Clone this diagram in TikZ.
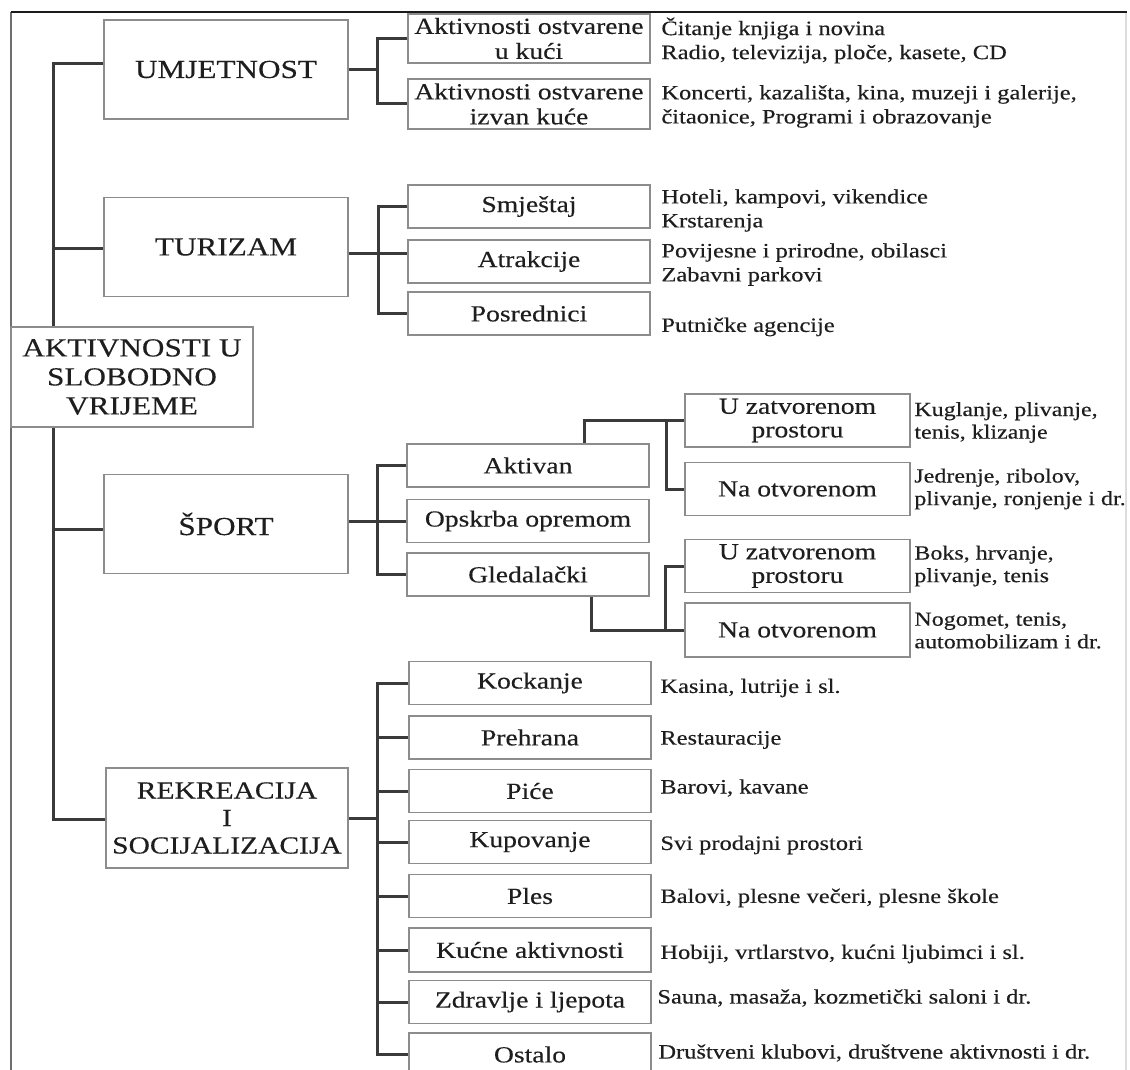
\documentclass[tikz,border=0pt]{standalone}
\usepackage{fontspec}
\setmainfont{Liberation Serif}[FakeStretch=1.2,FakeBold=0.3]
\definecolor{boxc}{HTML}{8C8C8C}
\definecolor{linec}{HTML}{3A3A3A}
\definecolor{txtc}{HTML}{1E1E1E}
\definecolor{framec}{HTML}{1A1A1A}
\definecolor{framel}{HTML}{6E6E6E}
\definecolor{framer}{HTML}{DDDDDD}
\tikzset{
  mainbox/.style={draw=boxc, line width=0.9pt, minimum width=122pt, minimum height=49.5pt,
    inner sep=0pt, align=center, font=\fontsize{13}{14.5}\selectfont, text=txtc},
  subbox/.style={draw=boxc, line width=0.9pt, minimum width=121pt, minimum height=21.5pt,
    inner sep=0pt, align=center, font=\fontsize{11.5}{12.5}\selectfont, text=txtc},
  leafbox/.style={draw=boxc, line width=0.9pt, minimum width=112.5pt, minimum height=26.5pt,
    inner sep=0pt, align=center, font=\fontsize{11.5}{11.8}\selectfont, text=txtc},
  desc/.style={anchor=west, inner sep=0pt, align=left, font=\fontsize{10.2}{12}\selectfont, text=txtc},
  leafdesc/.style={desc, font=\fontsize{10}{11.3}\selectfont},
  conn/.style={draw=linec, line width=1.5pt},
}
\begin{document}
\begin{tikzpicture}[x=0.5pt,y=-0.5pt]
\clip (0,0) rectangle (1130,1070);
\fill[white] (0,0) rectangle (1130,1070);

% frame
\draw[framer, line width=0.6pt] (1126,12) -- (1126,1070);
\draw[framel, line width=1.2pt] (11,12) -- (11,1070);
\draw[framec, line width=1pt] (11,12) -- (1127,12);

% main boxes
\node[mainbox] (umj) at (226,69.5) {UMJETNOST};
\node[mainbox] (tur) at (226,247) {TURIZAM};
\node[mainbox] (spo) at (226,524) {ŠPORT};
\node[mainbox, minimum width=121pt, minimum height=50pt, font=\fontsize{12.3}{13.75}\selectfont] (rek) at (227,818) {REKREACIJA\\I\\SOCIJALIZACIJA};
\node[mainbox, minimum width=121pt, minimum height=50pt] (root) at (132,377) {AKTIVNOSTI U\\SLOBODNO\\VRIJEME};

% level 2: umjetnost
\node[subbox, minimum height=24.5pt] (a1) at (529,38.5) {Aktivnosti ostvarene\\u kući};
\node[subbox, minimum height=25pt] (a2) at (529,104) {Aktivnosti ostvarene\\izvan kuće};
% level 2: turizam
\node[subbox] (smj) at (529,206.5) {Smještaj};
\node[subbox] (atr) at (529,261.5) {Atrakcije};
\node[subbox] (pos) at (529,313.5) {Posrednici};
% level 2: sport
\node[subbox] (akt) at (528,465.5) {Aktivan};
\node[subbox] (ops) at (528,521) {Opskrba opremom};
\node[subbox] (gle) at (528,574.5) {Gledalački};
% level 2: rekreacija
\node[subbox] (r1) at (530,683) {Kockanje};
\node[subbox] (r2) at (530,737.5) {Prehrana};
\node[subbox] (r3) at (530,791) {Piće};
\node[subbox] (r4) at (530,842) {Kupovanje};
\node[subbox] (r5) at (530,896) {Ples};
\node[subbox, minimum height=22pt] (r6) at (530,950) {Kućne aktivnosti};
\node[subbox] (r7) at (530,1002) {Zdravlje i ljepota};
\node[subbox] (r8) at (530,1054.5) {Ostalo};

% level 3
\node[leafbox] (uz1) at (797.5,420.5) {U zatvorenom\\prostoru};
\node[leafbox] (no1) at (797.5,489) {Na otvorenom};
\node[leafbox] (uz2) at (797.5,566) {U zatvorenom\\prostoru};
\node[leafbox, minimum height=27pt] (no2) at (797.5,630) {Na otvorenom};

% descriptions
\node[desc] (d1) at (661,40.5) {Čitanje knjiga i novina\\Radio, televizija, ploče, kasete, CD};
\node[desc] (d2) at (661,106.5) {Koncerti, kazališta, kina, muzeji i galerije,\\čitaonice, Programi i obrazovanje};
\node[desc] (d3) at (661,210.5) {Hoteli, kampovi, vikendice\\Krstarenja};
\node[desc] (d4) at (661,264.5) {Povijesne i prirodne, obilasci\\Zabavni parkovi};
\node[desc] (d5) at (661,327) {Putničke agencije};
\node[leafdesc] (e1) at (914,422.5) {Kuglanje, plivanje,\\tenis, klizanje};
\node[leafdesc] (e2) at (914,489) {Jedrenje, ribolov,\\plivanje, ronjenje i dr.};
\node[leafdesc] (e3) at (914,566) {Boks, hrvanje,\\plivanje, tenis};
\node[leafdesc] (e4) at (914,630.5) {Nogomet, tenis,\\automobilizam i dr.};
\node[desc] (f1) at (660,688) {Kasina, lutrije i sl.};
\node[desc] (f2) at (660,740) {Restauracije};
\node[desc] (f3) at (660,788) {Barovi, kavane};
\node[desc] (f4) at (660,845) {Svi prodajni prostori};
\node[desc] (f5) at (660,898) {Balovi, plesne večeri, plesne škole};
\node[desc] (f6) at (660,954) {Hobiji, vrtlarstvo, kućni ljubimci i sl.};
\node[desc] (f7) at (657,998) {Sauna, masaža, kozmetički saloni i dr.};
\node[desc] (f8) at (658,1053) {Društveni klubovi, društvene aktivnosti i dr.};

% trunk
\coordinate (t1) at (53,64);
\coordinate (t2) at (53,248);
\coordinate (t3) at (53,529);
\coordinate (t4) at (53,819);
\draw[conn] (root.north -| t1) -- (t1) -- (t1 -| umj.west);
\draw[conn] (t2) -- (t2 -| tur.west);
\draw[conn] (root.south -| t4) -- (t4) -- (t4 -| rek.west);
\draw[conn] (t3) -- (t3 -| spo.west);

% umjetnost
\coordinate (bu) at (377,70);
\draw[conn] (umj.east |- bu) -- (bu);
\draw[conn] (a1.west) -| (bu) |- (a2.west);
% turizam
\coordinate (bt) at (378,253);
\draw[conn] (tur.east |- bt) -- (bt) -- (bt -| atr.west);
\draw[conn] (smj.west) -| (bt) |- (pos.west);
% sport
\coordinate (bs) at (377,521);
\draw[conn] (spo.east |- bs) -- (bs) -- (ops.west);
\draw[conn] (akt.west) -| (bs) |- (gle.west);
\coordinate (ca) at (584,420.5);
\coordinate (cb) at (666,420.5);
\draw[conn] (akt.north -| ca) -- (ca) -- (uz1.west);
\draw[conn] (cb) |- (no1.west);
\coordinate (cg) at (591,630);
\coordinate (ch) at (665,630);
\draw[conn] (gle.south -| cg) -- (cg) -- (no2.west);
\draw[conn] (ch) |- (uz2.west);
% rekreacija
\coordinate (br) at (377,818);
\draw[conn] (rek.east) -- (br);
\draw[conn] (r1.west) -| (br) |- (r8.west);
\foreach \n in {r2,r3,r4,r5,r6,r7}{
  \draw[conn] (\n.west -| br) -- (\n.west);
}
\end{tikzpicture}
\end{document}
